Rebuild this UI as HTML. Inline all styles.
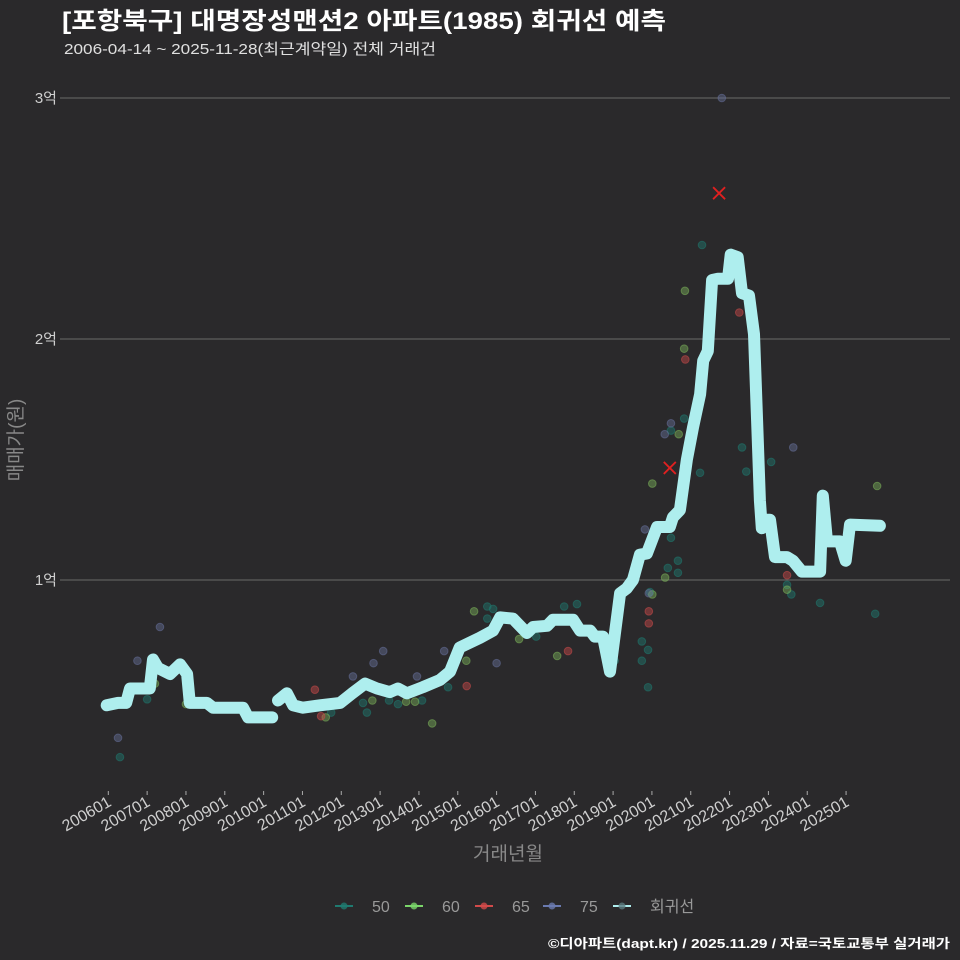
<!DOCTYPE html>
<html><head><meta charset="utf-8"><style>
body{margin:0;background:#2a292b;}
svg{display:block;font-family:"Liberation Sans","Noto Sans CJK KR",sans-serif;}
</style></head><body>
<svg id="chart" width="960" height="960" viewBox="0 0 960 960">
<rect width="960" height="960" fill="#2a292b"/>
<text x="62" y="29" fill="#ffffff" font-size="24" font-weight="bold" textLength="604" lengthAdjust="spacingAndGlyphs">[포항북구] 대명장성맨션2 아파트(1985) 회귀선 예측</text>
<text x="64" y="54" fill="#e0e0e0" font-size="15" textLength="372" lengthAdjust="spacingAndGlyphs">2006-04-14 ~ 2025-11-28(최근계약일) 전체 거래건</text>
<g id="grid"></g>
<g id="yticks"></g>
<g id="xticks"></g>
<g id="points"></g>
<g id="line"></g>
<text transform="translate(22,440) rotate(-90)" text-anchor="middle" fill="#888" font-size="19">매매가(원)</text>
<text x="508" y="860" text-anchor="middle" fill="#888" font-size="19">거래년월</text>
<g id="legend"></g>
<text x="950" y="948" text-anchor="end" fill="#ffffff" font-size="13" font-weight="bold" textLength="402" lengthAdjust="spacingAndGlyphs">©디아파트(dapt.kr) / 2025.11.29 / 자료=국토교통부 실거래가</text>
</svg>
<script>
const yTickValues=[1,2,3];
const yTickLabels=["1억","2억","3억"];
const xTickYears=[2006,2007,2008,2009,2010,2011,2012,2013,2014,2015,2016,2017,2018,2019,2020,2021,2022,2023,2024,2025];
const xTickLabels=["200601","200701","200801","200901","201001","201101","201201","201301","201401","201501","201601","201701","201801","201901","202001","202101","202201","202301","202401","202501"];
const lineYears=[2005.96,2006.25,2006.46,2006.56,2007.07,2007.15,2007.28,2007.59,2007.85,2008.03,2008.10,2008.54,2008.70,2009.47,2009.60,2010.22,null,2010.37,2010.60,2010.76,2011.01,2011.45,2011.97,2012.28,2012.61,2012.92,2013.25,2013.46,2013.69,2014.10,2014.54,2014.80,2015.05,2015.57,2015.91,2016.09,2016.42,2016.78,2016.94,2017.30,2017.45,2017.97,2018.15,2018.41,2018.53,2018.74,2018.92,2019.18,2019.35,2019.51,2019.69,2019.87,2020.13,2020.46,2020.54,2020.72,2020.90,2021.06,2021.24,2021.32,2021.44,2021.55,2021.70,2021.96,2022.03,2022.21,2022.32,2022.50,2022.63,2022.71,2022.78,2022.83,2022.91,2023.04,2023.17,2023.48,2023.63,2023.86,2024.33,2024.40,2024.51,2024.84,2024.99,2025.10,2025.87];
const lineValues=[0.48,0.49,0.49,0.55,0.55,0.67,0.635,0.61,0.65,0.61,0.49,0.49,0.47,0.47,0.43,0.43,null,0.50,0.53,0.48,0.47,0.48,0.49,0.53,0.57,0.55,0.535,0.55,0.53,0.555,0.585,0.62,0.72,0.76,0.79,0.845,0.84,0.78,0.805,0.81,0.835,0.835,0.79,0.79,0.765,0.765,0.62,0.945,0.965,1.0,1.105,1.11,1.22,1.22,1.26,1.29,1.50,1.635,1.77,1.91,1.95,2.245,2.25,2.25,2.35,2.34,2.19,2.18,2.02,1.66,1.33,1.215,1.25,1.25,1.095,1.095,1.08,1.035,1.035,1.35,1.16,1.16,1.08,1.23,1.225];
const s50Years=[2006.30,2007.00,2011.74,2012.56,2012.66,2013.23,2013.46,2014.08,2014.75,2015.76,2015.91,2015.76,2017.02,2017.74,2018.07,2019.04,2019.74,2019.74,2019.90,2019.90,2019.95,2020.41,2020.49,2020.49,2020.67,2020.67,2020.83,2021.24,2021.29,2022.32,2022.43,2023.07,2023.48,2023.59,2024.33,2025.75];
const s50Values=[0.265,0.505,0.45,0.49,0.45,0.50,0.485,0.50,0.555,0.89,0.88,0.84,0.765,0.89,0.90,0.665,0.745,0.665,0.71,0.555,0.95,1.05,1.175,1.62,1.08,1.03,1.67,1.445,2.39,1.55,1.45,1.49,0.98,0.94,0.905,0.86];
const s60Years=[2007.2,2008.0,2011.6,2012.8,2013.67,2013.9,2014.34,2015.22,2015.42,2016.58,2017.56,2020.01,2020.01,2020.34,2020.69,2020.83,2020.85,2023.48,2024.41,2025.8];
const s60Values=[0.57,0.485,0.43,0.50,0.495,0.495,0.405,0.665,0.87,0.755,0.685,0.94,1.40,1.01,1.605,1.96,2.2,0.96,1.34,1.39];
const s65Years=[2011.32,2011.48,2015.23,2017.84,2019.92,2019.92,2020.86,2022.25,2023.48];
const s65Values=[0.545,0.435,0.56,0.705,0.87,0.82,1.915,2.11,1.02];
const s75Years=[2006.25,2006.75,2007.33,2012.3,2012.83,2013.08,2013.95,2014.65,2016.0,2019.82,2019.92,2020.33,2020.49,2021.8,2023.64];
const s75Values=[0.345,0.665,0.805,0.60,0.655,0.705,0.6,0.705,0.655,1.21,0.945,1.605,1.65,3.0,1.55];
const xMarkYears=[2020.46,2021.73];
const xMarkValues=[1.465,2.605];

const NS="http://www.w3.org/2000/svg";
function X(yr){return 108.3+(yr-2006)*38.83;}
function Y(v){return 821-v*241;}
function mk(tag,attrs,parent){const e=document.createElementNS(NS,tag);for(const k in attrs)e.setAttribute(k,attrs[k]);parent.appendChild(e);return e;}
const grid=document.getElementById('grid'),yt=document.getElementById('yticks'),xt=document.getElementById('xticks');
yTickValues.forEach((v,i)=>{
  const l=mk('line',{x1:60,x2:950,y1:Y(v),y2:Y(v),stroke:'#6a6a6a','stroke-width':1},grid);
  
  
  const t=mk('text',{x:57,y:Y(v)+5,'text-anchor':'end',fill:'#cfcfcf','font-size':15},yt);
  t.textContent=yTickLabels[i];
  
  
});
xTickYears.forEach((yr,i)=>{
  const x=X(yr);
  const tk=mk('line',{x1:x,x2:x,y1:791,y2:795,stroke:'#aaa','stroke-width':1},xt);
  
  
  const t=mk('text',{x:0,y:0,'text-anchor':'end',fill:'#cfcfcf','font-size':16,transform:`translate(${x+4},${805}) rotate(-30)`},xt);
  t.textContent=xTickLabels[i];
  
  
});
const pts=document.getElementById('points');
function series(ys,vs,color,name){
  ys.forEach((yr,i)=>{
    const c=mk('circle',{cx:X(yr),cy:Y(vs[i]),r:3.8,fill:color,'fill-opacity':0.45,stroke:color,'stroke-opacity':0.55},pts);
    
    
  });
}
series(s50Years,s50Values,'#1f7a70','50');
series(s60Years,s60Values,'#7bb25a','60');
series(s65Years,s65Values,'#c94a4a','65');
series(s75Years,s75Values,'#66709a','75');
xMarkYears.forEach((yr,i)=>{
  const x=X(yr),y=Y(xMarkValues[i]);
  const p=mk('path',{d:`M${x-6},${y-6}L${x+6},${y+6}M${x-6},${y+6}L${x+6},${y-6}`,stroke:'#e02020','stroke-width':1.8},pts);
  
  
});
const lg=document.getElementById('line');
let d='',pen=false;
lineYears.forEach((yr,i)=>{
  if(yr===null){pen=false;return;}
  d+=(pen?'L':'M')+X(yr).toFixed(1)+','+Y(lineValues[i]).toFixed(1);pen=true;
});
const path=mk('path',{d:d,fill:'none',stroke:'#aeeeee','stroke-width':12,'stroke-linejoin':'round','stroke-linecap':'round'},lg);


const legend=document.getElementById('legend');
const legItems=[['50','#1f7a70',335],['60','#7bd66a',405],['65','#d24a4a',475],['75','#6a7ab0',543],['회귀선','#aeeeee',613]];
legItems.forEach(([lab,col,x])=>{
  const g=mk('g',{},legend);
  
  
  mk('line',{x1:x,x2:x+18,y1:906,y2:906,stroke:col,'stroke-width':2},g);
  mk('circle',{cx:x+9,cy:906,r:3.5,fill:lab==='회귀선'?'#5a7a80':col,'fill-opacity':0.8},g);
  const t=mk('text',{x:x+37,y:912,fill:'#999','font-size':16},g);
  t.textContent=lab;
});
</script>
</body></html>
